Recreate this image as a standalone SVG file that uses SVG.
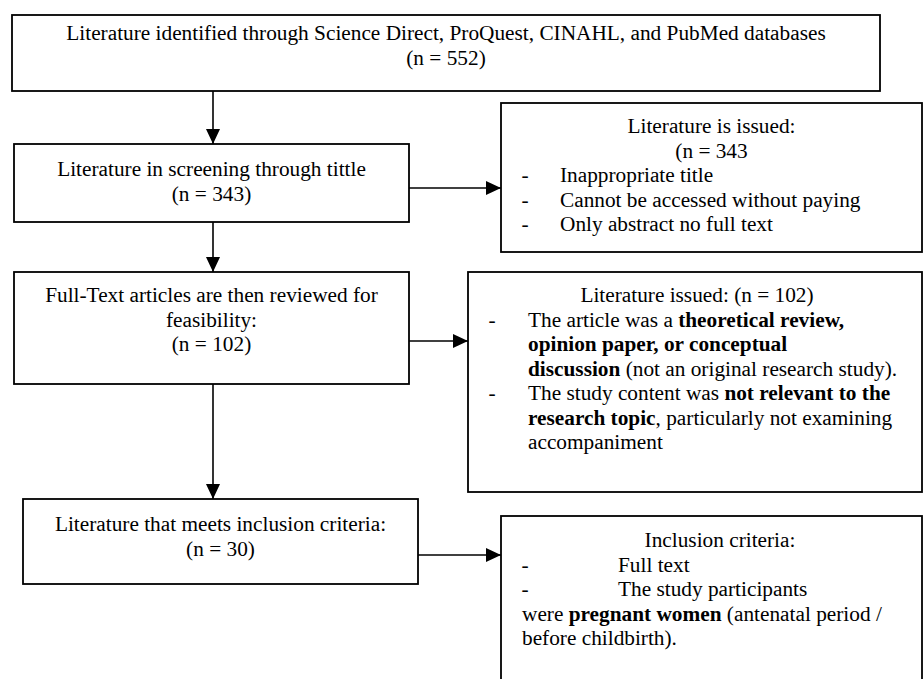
<svg xmlns="http://www.w3.org/2000/svg" width="924" height="679" viewBox="0 0 924 679">
<style>
.box{fill:#fff;stroke:#000;stroke-width:1.8}
.t{font-family:"Liberation Serif","Times New Roman",serif;font-size:21.3px;fill:#000}
.c{text-anchor:middle}
.b{font-weight:bold}
.ln{stroke:#000;stroke-width:1.6;fill:none}
</style>
<defs>
<marker id="ah" markerUnits="userSpaceOnUse" markerWidth="16" markerHeight="14" refX="15" refY="7" orient="auto">
<path d="M0,0 L15,7 L0,14 Z" fill="#000"/>
</marker>
</defs>
<rect width="924" height="679" fill="#fff"/>
<g id="connectors">
<line class="ln" x1="213" y1="91" x2="213" y2="144" marker-end="url(#ah)"/>
<line class="ln" x1="213" y1="222" x2="213" y2="272" marker-end="url(#ah)"/>
<line class="ln" x1="213" y1="384" x2="213" y2="499" marker-end="url(#ah)"/>
<line class="ln" x1="409" y1="188" x2="501" y2="188" marker-end="url(#ah)"/>
<line class="ln" x1="409" y1="341" x2="468" y2="341" marker-end="url(#ah)"/>
<line class="ln" x1="418" y1="555" x2="501" y2="555" marker-end="url(#ah)"/>
</g>
<g id="identified">
<rect class="box" x="12" y="15" width="868" height="76"/>
<text class="t c" x="446" y="40">Literature identified through Science Direct, ProQuest, CINAHL, and PubMed databases</text>
<text class="t c" x="446" y="64.5">(n = 552)</text>
</g>
<g id="screening">
<rect class="box" x="14" y="144" width="395" height="78"/>
<text class="t c" x="211.5" y="176">Literature in screening through tittle</text>
<text class="t c" x="211.5" y="200.5">(n = 343)</text>
</g>
<g id="excluded1">
<rect class="box" x="501" y="103" width="421" height="149"/>
<text class="t c" x="711.5" y="133">Literature is issued:</text>
<text class="t c" x="711.5" y="157.5">(n = 343</text>
<text class="t c" x="525" y="182">-</text>
<text class="t" x="560" y="182">Inappropriate title</text>
<text class="t c" x="525" y="206.5">-</text>
<text class="t" x="560" y="206.5">Cannot be accessed without paying</text>
<text class="t c" x="525" y="231">-</text>
<text class="t" x="560" y="231">Only abstract no full text</text>
</g>
<g id="fulltext">
<rect class="box" x="14" y="272" width="395" height="112"/>
<text class="t c" x="211.5" y="302">Full-Text articles are then reviewed for</text>
<text class="t c" x="211.5" y="326.5">feasibility:</text>
<text class="t c" x="211.5" y="351">(n = 102)</text>
</g>
<g id="excluded2">
<rect class="box" x="468" y="272" width="454" height="220"/>
<text class="t c" x="697" y="302">Literature issued: (n = 102)</text>
<text class="t c" x="492" y="326.5">-</text>
<text class="t" x="528" y="326.5">The article was a <tspan class="b">theoretical review,</tspan></text>
<text class="t b" x="528" y="351">opinion paper, or conceptual</text>
<text class="t" x="528" y="375.5"><tspan class="b">discussion</tspan> (not an original research study).</text>
<text class="t c" x="492" y="400">-</text>
<text class="t" x="528" y="400">The study content was <tspan class="b">not relevant to the</tspan></text>
<text class="t" x="528" y="424.5"><tspan class="b">research topic</tspan>, particularly not examining</text>
<text class="t" x="528" y="449">accompaniment</text>
</g>
<g id="included">
<rect class="box" x="23" y="499" width="395" height="85"/>
<text class="t c" x="220.5" y="531">Literature that meets inclusion criteria:</text>
<text class="t c" x="220.5" y="555.5">(n = 30)</text>
</g>
<g id="criteria">
<rect class="box" x="501" y="516" width="421" height="180"/>
<text class="t c" x="720" y="547">Inclusion criteria:</text>
<text class="t c" x="525" y="571.5">-</text>
<text class="t" x="618" y="571.5">Full text</text>
<text class="t c" x="525" y="596">-</text>
<text class="t" x="618" y="596">The study participants</text>
<text class="t" x="522" y="620.5">were <tspan class="b">pregnant women</tspan> (antenatal period /</text>
<text class="t" x="522" y="645">before childbirth).</text>
</g>
</svg>
